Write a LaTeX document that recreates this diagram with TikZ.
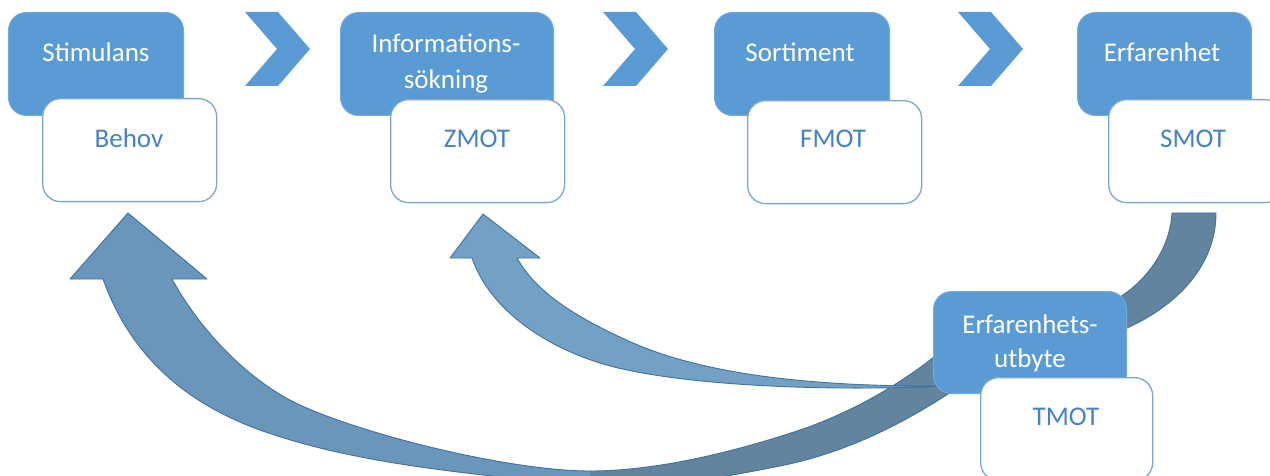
\documentclass[tikz,border=0pt]{standalone}
\usepackage{fontspec}
\setmainfont{Carlito}
\definecolor{boxblue}{RGB}{91,155,213}
\definecolor{boxedge}{RGB}{125,166,208}
\definecolor{labelblue}{RGB}{70,130,196}
\definecolor{arrowlight}{RGB}{106,150,187}
\definecolor{arrowdark}{RGB}{98,132,159}
\definecolor{arrowthin}{RGB}{115,160,197}
\definecolor{arrowedge}{RGB}{65,113,156}
\tikzset{
  stagebox/.style={rectangle, rounded corners=18pt, fill=boxblue, draw=boxblue!85!white,
    line width=1pt, minimum width=175pt, minimum height=103pt, inner sep=0pt, anchor=north west},
  motbox/.style={rectangle, rounded corners=18pt, fill=white, draw=boxedge,
    line width=1.3pt, minimum width=174pt, minimum height=103pt, inner sep=0pt, anchor=north west},
  stagetext/.style={text=white, font=\fontsize{27}{32}\selectfont, inner sep=0pt, anchor=base},
  mottext/.style={text=labelblue, font=\fontsize{27}{32}\selectfont, inner sep=0pt, anchor=base},
  chevronshape/.style={fill=boxblue},
  bandarrow/.style={draw=arrowedge, line width=0.9pt, line join=round},
}
\begin{document}
\begin{tikzpicture}[x=1pt, y=-1pt]
\useasboundingbox (0,0) rectangle (1270,476);
\clip (0,0) rectangle (1270,476);

% wide return arrow towards "Behov" (left open at its tail so the cut is not stroked)
\path[bandarrow, fill=arrowlight]
  (590,471)
  .. controls (510,471) and (365,435) .. (300,405)
  .. controls (250,382) and (201,332) .. (172,279)
  -- (207,279) -- (128,213) -- (70,279) -- (103,279)
  .. controls (130,355) and (185,403) .. (260,430)
  .. controls (354,464) and (470,474) .. (590,486)
  -- (590,500);

% band leaving "SMOT", passing behind "Erfarenhets-utbyte"
\path[bandarrow, fill=arrowdark]
  (590,500) -- (590,494)
  .. controls (640,490) and (700,482) .. (780,466)
  .. controls (850,452) and (910,420) .. (960,386)
  -- (1110,335) -- (1127,328)
  .. controls (1178,305) and (1216,265) .. (1216,213)
  -- (1172,213)
  .. controls (1170,250) and (1145,283) .. (1115,300)
  -- (1100,300) -- (940,352)
  .. controls (900,385) and (850,413) .. (800,430)
  .. controls (740,450) and (660,471) .. (590,471);

% narrow arrow towards "ZMOT"
\path[bandarrow, fill=arrowthin]
  (483,214) -- (540,258) -- (517,258)
  .. controls (535,290) and (570,315) .. (633,343)
  .. controls (700,372) and (800,387) .. (945,386)
  .. controls (820,392) and (670,385) .. (600,363)
  .. controls (545,346) and (490,310) .. (472,258)
  -- (450,258) -- cycle;

% chevrons between the stages
\foreach \cx in {245,603,958}
  \path[chevronshape] (\cx,12) -- ++(33,0) -- ++(32,37) -- ++(-32,37)
    -- ++(-33,0) -- ++(32,-37) -- cycle;

% stage 1
\node[stagebox] (stim) at (8,12) {};
\node[motbox] (behov) at (42,98) {};
\node[stagetext] (stimT) at (96,62) {Stimulans};
\node[mottext] (behovT) at (129,148) {Behov};

% stage 2
\node[stagebox, minimum width=213pt] (info) at (340,12) {};
\node[motbox] (zmot) at (390,99) {};
\node[stagetext] (infoT1) at (446,53) {Informations-};
\node[stagetext] (infoT2) at (446,89) {sökning};
\node[mottext] (zmotT) at (477,148) {ZMOT};

% stage 3
\node[stagebox] (sort) at (714,12) {};
\node[motbox] (fmot) at (747,100) {};
\node[stagetext] (sortT) at (800,62) {Sortiment};
\node[mottext] (fmotT) at (833,148) {FMOT};

% stage 4
\node[stagebox, minimum width=174pt] (erf) at (1077,12) {};
\node[motbox] (smot) at (1108,99) {};
\node[stagetext] (erfT) at (1162,62) {Erfarenhet};
\node[mottext] (smotT) at (1193,148) {SMOT};

% stage 5
\node[stagebox, minimum width=193pt, minimum height=102pt] (utb) at (933,291) {};
\node[motbox, minimum width=172pt] (tmot) at (980,377) {};
\node[stagetext] (utbT1) at (1030,333) {Erfarenhets-};
\node[stagetext] (utbT2) at (1030,367) {utbyte};
\node[mottext] (tmotT) at (1066,425) {TMOT};
\end{tikzpicture}
\end{document}
